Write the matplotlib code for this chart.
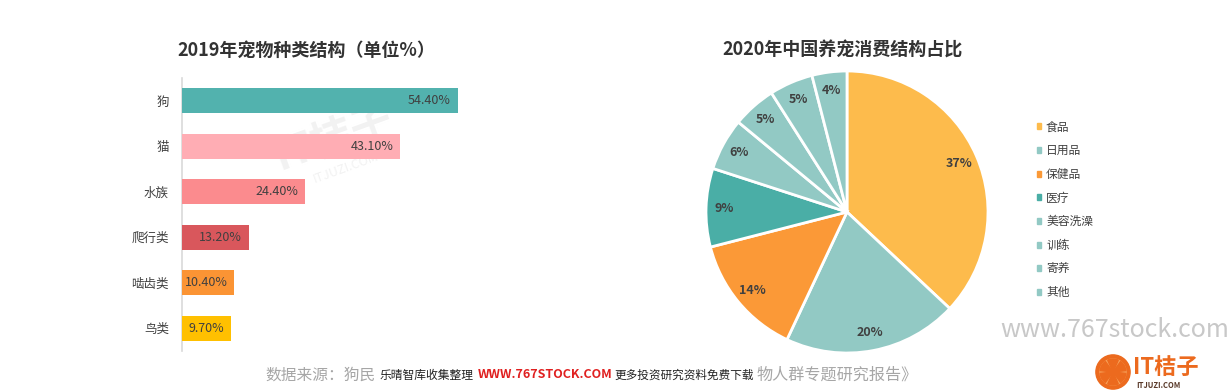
import matplotlib
matplotlib.use('Agg')
import matplotlib.pyplot as plt
import matplotlib.patches as mpatches

plt.rcParams['font.family'] = ['Noto Sans CJK SC', 'DejaVu Sans']

# ── Data ───────────────────────────────────────────────────────────────────
pet_types  = ['狗', '猫', '水族', '爬行类', '啮齿类', '鸟类']
pet_shares = [54.4, 43.1, 24.4, 13.2, 10.4, 9.7]
pet_colors = ['#52b2ae', '#ffadb4', '#fb8b8e', '#d9575c', '#fb9434', '#ffc000']

spend_items  = ['食品', '日用品', '保健品', '医疗', '美容洗澡', '训练', '寄养', '其他']
spend_shares = [37, 20, 14, 9, 6, 5, 5, 4]
spend_colors = ['#fdbb4c', '#92c9c4', '#fb9937', '#4aaea6',
                '#92c9c4', '#92c9c4', '#92c9c4', '#92c9c4']

W, H = 1230, 392
TEXT_DARK = '#404040'
TITLE_COLOR = '#333333'


def px_axes(fig, x0, y0, x1, y1):
    """Axes from pixel box (top-left origin)."""
    return fig.add_axes([x0 / W, 1 - y1 / H, (x1 - x0) / W, (y1 - y0) / H])


fig = plt.figure(figsize=(W / 100, H / 100), dpi=100)
fig.patch.set_facecolor('white')

# ── Bar chart ──────────────────────────────────────────────────────────────
ax = px_axes(fig, 181.5, 78, 181.5 + 60 * 5.08, 351)
ax.set_facecolor('none')
y = list(range(len(pet_types)))
bars = ax.barh(y, pet_shares, height=0.55, color=pet_colors, zorder=3)
ax.set_xlim(0, 60)
ax.set_ylim(len(pet_types) - 0.5, -0.5)
ax.set_yticks(y)
ax.set_yticklabels(pet_types, fontsize=9, color=TEXT_DARK)
ax.tick_params(axis='y', length=0, pad=9)
ax.set_xticks([])
for side in ('top', 'right', 'bottom'):
    ax.spines[side].set_visible(False)
ax.spines['left'].set_color('#d9d9d9')
ax.spines['left'].set_linewidth(1.2)

# faint watermark behind the bars
ax.text(0.5, 0.78, 'IT桔子', transform=ax.transAxes, fontsize=30, color='#f2f2f2',
        rotation=20, ha='center', va='center', fontweight='bold', zorder=1)
ax.text(0.54, 0.67, 'ITJUZI.COM', transform=ax.transAxes, fontsize=9, color='#f2f2f2',
        rotation=20, ha='center', va='center', zorder=1)

for rect, val in zip(bars, pet_shares):
    ax.annotate(f'{val:.2f}%', xy=(rect.get_width(), rect.get_y() + rect.get_height() / 2),
                xytext=(-5, 0), textcoords='offset points',
                ha='right', va='center', fontsize=9, color=TEXT_DARK, zorder=4)

fig.text(306 / W, 1 - 50 / H, '2019年宠物种类结构（单位%）', fontsize=13,
         fontweight='bold', color=TITLE_COLOR, ha='center', va='center')

# ── Pie chart ──────────────────────────────────────────────────────────────
cx, cy, r = 847, 212, 141
half = 146
axp = px_axes(fig, cx - half, cy - half, cx + half, cy + half)
wedges, _, autotexts = axp.pie(
    spend_shares, colors=spend_colors, startangle=90, counterclock=False,
    autopct=lambda p: f'{p:.0f}%', pctdistance=0.87,
    wedgeprops=dict(edgecolor='white', linewidth=2),
    textprops=dict(fontsize=9, fontweight='bold', color=TEXT_DARK),
)
lim = half / r
axp.set_xlim(-lim, lim)
axp.set_ylim(-lim, lim)
axp.set_aspect('equal')

fig.text(843 / W, 1 - 50 / H, '2020年中国养宠消费结构占比', fontsize=13,
         fontweight='bold', color=TITLE_COLOR, ha='center', va='center')

handles = [mpatches.Patch(color=c) for c in spend_colors]
fig.legend(handles, spend_items, loc='upper left',
           bbox_to_anchor=(1026 / W, 1 - 110 / H), frameon=False,
           fontsize=8.5, labelcolor=TEXT_DARK, handlelength=0.4, handleheight=0.4,
           handletextpad=0.4, labelspacing=0.9)

# ── Source line and logos ──────────────────────────────────────────────────
src = fig.text(265 / W, 1 - 375 / H, '数据来源：狗民', fontsize=11.3, color='#a6a6a6',
               ha='left', va='center')
parts = [
    ('乐晴智库收集整理', 8.5, '#222222', 'normal', 3),
    ('WWW.767STOCK.COM', 9, '#e02020', 'bold', 3),
    ('更多投资研究资料免费下载', 8.4, '#222222', 'normal', 1.5),
    ('物人群专题研究报告》', 11.6, '#a6a6a6', 'normal', 1.5),
]
prev = src
for txt, fs, col, wt, gap in parts:
    prev = ax.annotate(txt, xy=(1, 0.5), xycoords=prev, xytext=(gap, 0),
                       textcoords='offset points', ha='left', va='center',
                       fontsize=fs, color=col, fontweight=wt, annotation_clip=False)

fig.text(1115 / W, 1 - 330 / H, 'www.767stock.com', fontsize=18, color='#c8c8c8',
         ha='center', va='center')

# IT桔子 logo
logo_ax = px_axes(fig, 1095, 354, 1131, 390)
logo_ax.set_xlim(-1, 1)
logo_ax.set_ylim(-1, 1)
logo_ax.set_aspect('equal')
logo_ax.axis('off')
logo_ax.add_patch(mpatches.Circle((0, 0), 0.95, color='#ec6a1e'))
logo_ax.add_patch(mpatches.Circle((0, 0), 0.72, color='#f7a35c'))
for ang in range(0, 360, 60):
    logo_ax.add_patch(mpatches.Wedge((0, 0), 0.72, ang + 6, ang + 54, color='#ec6a1e'))
fig.text(1133 / W, 1 - 367 / H, 'IT桔子', fontsize=16, fontweight='bold',
         color='#ec6a1e', ha='left', va='center')
fig.text(1136 / W, 1 - 385 / H, 'ITJUZI.COM', fontsize=5.5, fontweight='bold',
         color='#5a3a2a', ha='left', va='center')

fig.savefig('out.png', dpi=100, facecolor='white')
